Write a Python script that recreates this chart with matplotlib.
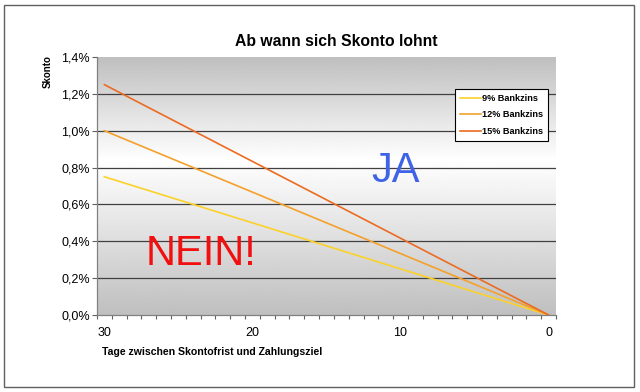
import numpy as np
import matplotlib.pyplot as plt
from matplotlib.ticker import FuncFormatter, MultipleLocator
from matplotlib.patches import Rectangle

plt.rcParams['font.family'] = ['Liberation Sans', 'DejaVu Sans']

# Tage zwischen Skontofrist und Zahlungsziel (30 ... 0)
tage = np.arange(30, -1, -1)
skonto_9 = [0.0075 * t / 30 for t in tage]
skonto_12 = [0.0100 * t / 30 for t in tage]
skonto_15 = [0.0125 * t / 30 for t in tage]
labels = ['9% Bankzins', '12% Bankzins', '15% Bankzins']
farben = ['#FBD12A', '#F5A02A', '#EC6B22']

fig = plt.figure(figsize=(6.4, 3.92), dpi=100)
ax = fig.add_axes([97 / 640, 1 - 315 / 392, 459 / 640, 258 / 392])

# Hintergrund: grau oben/unten, weiss etwa bei 60% Hoehe
yy = np.linspace(0, 1, 256)
grau = np.where(yy < 0.6, 0.75 + 0.25 * yy / 0.6, 1.0 - 0.25 * (yy - 0.6) / 0.4)
ax.imshow(grau[::-1, None], cmap='gray', vmin=0, vmax=1, aspect='auto',
          extent=[0, 1, 0, 1], transform=ax.transAxes, zorder=0)

for g in np.arange(0.002, 0.0125, 0.002):
    ax.axhline(g, color='#404040', lw=0.9, zorder=1)

for werte, lab, col in zip([skonto_9, skonto_12, skonto_15], labels, farben):
    ax.plot(tage, werte, color=col, lw=1.2, label=lab, zorder=3)

ax.set_xlim(30.5, -0.5)
ax.set_ylim(0, 0.014)
ax.set_xticks([30, 20, 10, 0])
ax.xaxis.set_minor_locator(MultipleLocator(1, offset=0.5))
ax.yaxis.set_major_locator(MultipleLocator(0.002))
ax.yaxis.set_major_formatter(FuncFormatter(lambda v, p: f'{v * 100:.1f}%'.replace('.', ',')))
ax.tick_params(axis='x', which='major', length=0, pad=9, labelsize=9)
ax.tick_params(axis='x', which='minor', length=3, width=0.8, color='#606060', direction='out')
ax.tick_params(axis='y', length=3.5, width=0.8, color='#606060', pad=1.5, labelsize=9)
for s in ['top', 'right']:
    ax.spines[s].set_visible(False)
for s in ['left', 'bottom']:
    ax.spines[s].set_color('#808080')
    ax.spines[s].set_linewidth(0.9)

leg = fig.legend(loc='upper left', bbox_to_anchor=(455 / 640, 1 - 89 / 392),
                 borderaxespad=0, fancybox=False, framealpha=1, edgecolor='black',
                 prop={'size': 6.6, 'weight': 'bold'}, handlelength=2.3,
                 handletextpad=0.1, labelspacing=0.8, borderpad=0.55)
leg.get_frame().set_linewidth(0.8)

fig.text(336 / 640, 1 - 42 / 392, 'Ab wann sich Skonto lohnt', ha='center', va='center',
         fontsize=11.3, fontweight='bold')
fig.text(48 / 640, 1 - 72 / 392, 'Skonto', rotation=90, ha='center', va='center',
         fontsize=7, fontweight='bold')
fig.text(102 / 640, 1 - 355 / 392, 'Tage zwischen Skontofrist und Zahlungsziel',
         ha='left', va='baseline', fontsize=7.6, fontweight='bold')

fig.text(371 / 640, 1 - 182 / 392, 'JA', color='#3F63E6', fontsize=30,
         ha='left', va='baseline')
fig.text(146 / 640, 1 - 265 / 392, 'NEIN!', color='#F20F0F', fontsize=30,
         ha='left', va='baseline')

fig.patches.append(Rectangle((4 / 640, 5 / 392), 630 / 640, 382 / 392,
                             transform=fig.transFigure, fill=False,
                             edgecolor='#606060', lw=1))

fig.savefig('out.png', dpi=100)
